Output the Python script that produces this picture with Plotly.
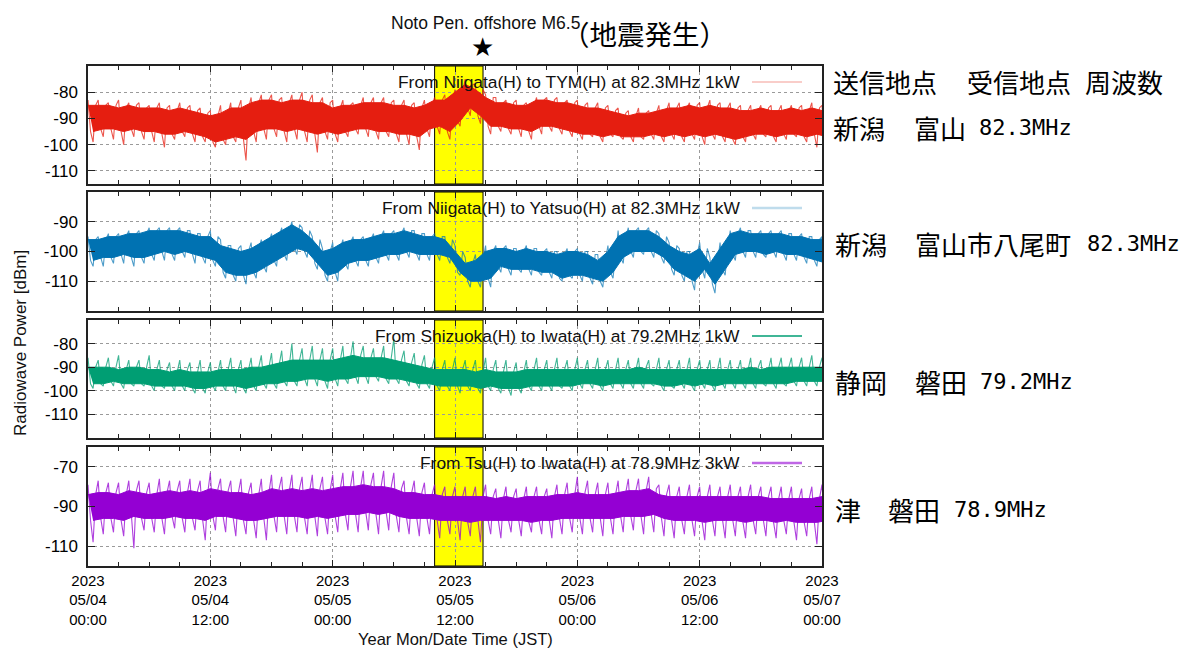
import plotly.graph_objects as go
import pandas as pd

# ---------------- data (hourly envelopes in dBm) ----------------
START = "2023-05-04 00:00"
END = "2023-05-07 00:00"
hours = list(range(73))
highlight_start = "2023-05-05 10:00"
highlight_end = "2023-05-05 14:45"
quake_time = "2023-05-05 14:42"

# Niigata -> TYM (red)
red_hi = [-85,-85,-85,-86,-85,-86,-86,-86,-87,-86, -87,-88,-89,-88,-86,-86,-84,-83,-83,-84,
          -83,-83,-84,-84,-86,-85,-85,-84,-84,-84, -85,-85,-86,-85,-83,-83,-80,-77,-79,-82,
          -84,-84,-85,-85,-83,-83,-84,-84,-85,-86, -86,-87,-88,-89,-88,-88,-87,-86,-86,-85,
          -86,-85,-86,-86,-87,-87,-86,-87,-87,-86, -87,-86,-87]
red_lo = [-95,-94,-94,-95,-94,-95,-95,-96,-96,-95, -96,-97,-99,-98,-97,-98,-95,-94,-94,-95,
          -94,-95,-96,-95,-96,-95,-94,-94,-95,-95, -96,-96,-97,-94,-93,-95,-91,-86,-89,-93,
          -93,-94,-94,-95,-93,-93,-94,-95,-96,-96, -97,-96,-97,-97,-97,-96,-97,-96,-97,-96,
          -97,-96,-97,-98,-97,-96,-96,-97,-96,-96, -97,-96,-97]
red_spk_hi = [-83,-83,-84,-83,-84,-84,-85,-84,-85,-84, -85,-86,-87,-85,-84,-83,-82,-81,-81,-82,
              -81,-80,-81,-82,-83,-83,-84,-82,-82,-82, -83,-83,-84,-83,-82,-81,-79,-75,-77,-81,
              -82,-83,-83,-84,-82,-82,-82,-83,-83,-84, -84,-85,-86,-87,-86,-87,-85,-84,-84,-84,
              -84,-83,-84,-84,-85,-85,-85,-85,-85,-85, -85,-84,-85]
red_spk_lo = [-99,-97,-98,-100,-97,-98,-99,-101,-98,-97, -99,-99,-101,-100,-99,-106,-99,-98,-97,-99,
              -98,-99,-103,-98,-99,-97,-96,-97,-98,-97, -99,-100,-102,-97,-96,-98,-93,-89,-92,-96,
              -95,-96,-97,-98,-96,-95,-96,-97,-98,-97, -99,-97,-98,-99,-98,-98,-99,-98,-99,-98,
              -100,-98,-99,-100,-99,-98,-97,-99,-98,-97, -99,-101,-99]

# Niigata -> Yatsuo (blue)
blue_hi = [-96,-96,-95,-95,-94,-94,-93,-93,-93,-93, -94,-95,-95,-98,-99,-100,-99,-97,-95,-93,
           -91,-93,-96,-100,-99,-97,-96,-96,-95,-94, -94,-93,-94,-95,-95,-96,-100,-104,-103,-100,
           -99,-99,-100,-99,-100,-100,-101,-100,-100,-101, -103,-100,-95,-93,-93,-93,-95,-98,-100,-101,
           -99,-104,-99,-94,-93,-94,-94,-94,-94,-95, -95,-96,-96]
blue_lo = [-103,-102,-102,-101,-102,-102,-101,-100,-101,-100, -101,-102,-103,-107,-108,-108,-107,-105,-103,-101,
           -99,-100,-104,-108,-107,-104,-103,-103,-102,-101, -101,-100,-101,-101,-101,-102,-107,-110,-110,-109,
           -105,-106,-106,-106,-107,-107,-109,-108,-108,-109, -110,-107,-102,-100,-100,-100,-102,-106,-108,-110,
           -106,-111,-106,-101,-100,-100,-101,-100,-101,-101, -102,-103,-104]
blue_spk_hi = [-95,-95,-94,-94,-93,-93,-92,-92,-92,-92, -93,-94,-93,-96,-98,-98,-97,-96,-94,-92,
               -90,-92,-95,-99,-97,-96,-95,-95,-94,-93, -93,-92,-93,-94,-94,-95,-98,-102,-101,-98,
               -98,-98,-99,-98,-99,-99,-100,-99,-99,-100, -101,-98,-93,-92,-92,-92,-94,-97,-99,-100,
               -97,-102,-97,-93,-92,-93,-93,-93,-93,-94, -94,-95,-95]
blue_spk_lo = [-105,-105,-104,-104,-105,-104,-103,-103,-103,-102, -104,-104,-105,-109,-110,-111,-109,-107,-105,-103,
               -101,-102,-106,-110,-110,-106,-105,-105,-104,-103, -103,-102,-103,-103,-103,-104,-108,-112,-112,-112,
               -107,-108,-107,-108,-108,-109,-110,-109,-110,-111, -112,-109,-104,-102,-101,-102,-104,-108,-110,-113,
               -109,-114,-108,-103,-102,-102,-102,-102,-103,-103, -104,-105,-106]

# Shizuoka -> Iwata (green)
green_hi = [-90,-90,-90,-91,-90,-90,-91,-91,-92,-91, -92,-92,-92,-91,-91,-91,-90,-90,-89,-88,
            -87,-87,-87,-87,-87,-86,-85,-86,-86,-86, -87,-88,-89,-90,-91,-91,-91,-91,-92,-91,
            -92,-92,-92,-91,-91,-91,-91,-91,-91,-91, -91,-91,-91,-91,-90,-91,-91,-91,-91,-91,
            -91,-91,-91,-91,-91,-90,-91,-90,-90,-90, -90,-90,-90]
green_lo = [-97,-97,-96,-97,-97,-97,-98,-98,-98,-98, -99,-99,-98,-98,-98,-99,-98,-97,-97,-96,
            -96,-95,-95,-96,-95,-95,-94,-94,-94,-95, -95,-96,-97,-97,-98,-98,-98,-98,-99,-98,
            -99,-99,-99,-98,-98,-98,-98,-98,-97,-97, -98,-97,-97,-97,-97,-97,-98,-98,-97,-98,
            -97,-98,-97,-97,-97,-97,-97,-97,-97,-96, -96,-96,-96]
green_spk_hi = [-86,-87,-86,-85,-87,-87,-85,-87,-88,-87, -88,-87,-88,-87,-86,-87,-86,-85,-84,-83,
                -80,-82,-81,-82,-82,-81,-79,-81,-82,-81, -78,-83,-84,-85,-86,-87,-86,-87,-87,-86,
                -87,-87,-88,-87,-86,-87,-86,-87,-86,-87, -86,-87,-86,-87,-86,-87,-86,-87,-87,-86,
                -87,-87,-86,-87,-87,-86,-87,-86,-86,-86, -86,-85,-86]
green_spk_lo = [-99,-98,-98,-99,-98,-98,-100,-99,-100,-100, -101,-101,-100,-100,-101,-101,-100,-99,-99,-98,
                -98,-98,-98,-99,-98,-97,-97,-97,-96,-97, -97,-98,-99,-99,-100,-100,-101,-100,-101,-100,
                -101,-102,-101,-100,-100,-100,-99,-100,-99,-99, -100,-99,-99,-99,-99,-98,-100,-99,-99,-100,
                -99,-100,-99,-99,-99,-99,-98,-99,-98,-98, -98,-98,-98]

# Tsu -> Iwata (purple)
purple_hi = [-84,-83,-83,-84,-82,-83,-84,-83,-82,-83, -82,-83,-81,-82,-83,-83,-84,-83,-81,-82,
             -81,-82,-81,-82,-81,-80,-80,-79,-80,-80, -81,-83,-83,-84,-84,-85,-85,-85,-85,-85,
             -86,-85,-86,-85,-85,-85,-84,-84,-83,-84, -84,-84,-83,-82,-82,-81,-84,-85,-85,-85,
             -85,-85,-85,-85,-85,-85,-85,-86,-86,-86, -86,-86,-85]
purple_lo = [-97,-96,-96,-97,-95,-96,-96,-96,-95,-96, -96,-97,-95,-95,-96,-97,-97,-96,-95,-95,
             -95,-96,-95,-96,-95,-94,-94,-93,-94,-93, -95,-96,-96,-96,-97,-97,-97,-98,-97,-97,
             -97,-97,-97,-98,-97,-97,-96,-96,-96,-96, -96,-96,-95,-95,-95,-94,-96,-97,-97,-97,
             -98,-97,-97,-97,-98,-97,-97,-98,-97,-98, -98,-98,-97]
purple_spk_hi = [-79,-77,-78,-78,-77,-77,-78,-76,-77,-77, -76,-77,-73,-76,-77,-76,-78,-76,-74,-75,
                 -74,-75,-74,-75,-74,-73,-72,-72,-73,-72, -73,-77,-77,-78,-79,-80,-80,-80,-80,-79,
                 -81,-80,-81,-80,-80,-81,-79,-78,-75,-77, -78,-78,-77,-76,-76,-75,-79,-79,-80,-79,
                 -80,-79,-80,-79,-80,-79,-80,-80,-80,-80, -81,-80,-79]
purple_spk_lo = [-108,-104,-103,-105,-111,-102,-103,-104,-101,-103, -102,-107,-102,-103,-105,-104,-106,-107,-103,-104,
                 -103,-104,-105,-104,-103,-102,-103,-102,-104,-102, -103,-104,-105,-104,-106,-104,-107,-105,-108,-104,
                 -106,-103,-105,-103,-104,-106,-104,-103,-104,-103, -105,-104,-103,-102,-104,-103,-105,-106,-104,-105,
                 -107,-105,-106,-105,-106,-104,-105,-106,-104,-107, -105,-109,-106]

key_texts = ["From Niigata(H) to TYM(H) at 82.3MHz 1kW",
             "From Niigata(H) to Yatsuo(H) at 82.3MHz 1kW",
             "From Shizuoka(H) to Iwata(H) at 79.2MHz 1kW",
             "From Tsu(H) to Iwata(H) at 78.9MHz 3kW"]
y_ranges = [[-115, -70], [-120, -80], [-120, -70], [-120, -60]]
y_ticks = [[-110, -100, -90, -80], [-110, -100, -90], [-110, -100, -90, -80], [-110, -90, -70]]

# ---------------- layout helpers ----------------
W, H = 1181, 649
def px(x):
    return x / W
def py(y):
    return 1 - y / H

PLOT_L, PLOT_R = 88, 822
panel_px = [(66, 184), (192, 311), (320, 438), (447, 566)]

colors = ["#e51e10", "#0072b2", "#009e73", "#9400d3"]
spike_colors = ["rgba(229,30,16,0.75)", "rgba(0,114,178,0.7)", "rgba(0,158,115,0.75)", "rgba(148,0,211,0.75)"]
key_colors = ["rgba(229,30,16,0.45)", "rgba(0,114,178,0.25)", "#009e73", "rgba(148,0,211,0.6)"]
key_widths = [1.2, 2.5, 1.6, 2.5]

series = [(red_hi, red_lo, red_spk_hi, red_spk_lo),
          (blue_hi, blue_lo, blue_spk_hi, blue_spk_lo),
          (green_hi, green_lo, green_spk_hi, green_spk_lo),
          (purple_hi, purple_lo, purple_spk_hi, purple_spk_lo)]

t0 = pd.Timestamp(START)
def at(h):
    return t0 + pd.Timedelta(hours=h)
times = [at(h) for h in hours]
half_times = [at(h + 0.5) for h in hours]

fig = go.Figure()
FONT = "Liberation Sans, Arial, sans-serif"
shapes = []
annotations = []

for i, (hi, lo, shi, slo) in enumerate(series):
    n = i + 1
    sfx = "" if n == 1 else str(n)
    xa, ya = "x" + sfx, "y" + sfx
    # noise trace: upper spike -> core lower edge -> lower spike -> core upper edge, each hour
    zx, zy = [], []
    for h, a, cl, b, ch in zip(hours, shi, lo, slo, hi):
        zx += [at(h), at(h + 0.25), at(h + 0.5), at(h + 0.75)]
        zy += [a, cl, b, ch]
    fig.add_trace(go.Scatter(x=zx, y=zy, mode="lines", xaxis=xa, yaxis=ya,
                             line=dict(color=spike_colors[i], width=1.1), hoverinfo="skip", showlegend=False))
    fig.add_trace(go.Scatter(x=half_times, y=lo, mode="lines", xaxis=xa, yaxis=ya,
                             line=dict(color=colors[i], width=1), hoverinfo="skip", showlegend=False))
    fig.add_trace(go.Scatter(x=times, y=hi, mode="lines", xaxis=xa, yaxis=ya, fill="tonexty",
                             fillcolor=colors[i], line=dict(color=colors[i], width=1),
                             hoverinfo="skip", showlegend=False))

    top, bot = panel_px[i]
    xdom = [px(PLOT_L), px(PLOT_R)]
    ydom = [py(bot), py(top)]
    xaxis = dict(domain=xdom, anchor=ya, type="date", range=[START, END], automargin=False,
                 tick0=START, dtick=12 * 3600 * 1000, ticks="inside", ticklen=6, tickwidth=1,
                 tickcolor="#222", showline=True, linecolor="#222", linewidth=1.5, mirror="allticks",
                 showgrid=True, gridcolor="#9a9a9a", griddash="dot", gridwidth=1, zeroline=False,
                 minor=dict(dtick=3 * 3600 * 1000, ticks="inside", ticklen=4, tickcolor="#222", showgrid=False),
                 showticklabels=(n == 4), tickformat="%Y<br>%m/%d<br>%H:%M",
                 tickfont=dict(family=FONT, size=15, color="black"))
    if n > 1:
        xaxis["matches"] = "x"
    yaxis = dict(domain=ydom, anchor=xa, range=y_ranges[i], tickvals=y_ticks[i], automargin=False,
                 ticktext=[str(v) for v in y_ticks[i]], ticks="inside", ticklen=7, tickcolor="#222",
                 ticklabelstandoff=5,
                 showline=True, linecolor="#222", linewidth=1.5, mirror="allticks",
                 showgrid=True, gridcolor="#9a9a9a", griddash="dot", gridwidth=1, zeroline=False,
                 tickfont=dict(family=FONT, size=17, color="black"))
    fig.update_layout(**{"xaxis" + sfx: xaxis, "yaxis" + sfx: yaxis})

    # yellow highlight
    shapes.append(dict(type="rect", xref=xa, yref=ya + " domain", x0=highlight_start, x1=highlight_end,
                       y0=0, y1=1, fillcolor="#ffff00", line=dict(color="black", width=1), layer="below"))
    # key
    ky = top + 16
    annotations.append(dict(xref="paper", yref="paper", x=px(742), y=py(ky), xanchor="right", yanchor="middle",
                            text=key_texts[i], showarrow=False, font=dict(family=FONT, size=17.4, color="#111")))
    shapes.append(dict(type="line", xref="paper", yref="paper", x0=px(752), x1=px(802), y0=py(ky), y1=py(ky),
                       line=dict(color=key_colors[i], width=key_widths[i])))

# titles and labels
annotations.append(dict(xref="paper", yref="paper", x=px(389), y=py(23), xanchor="left", yanchor="middle",
                        text="Noto Pen. offshore M6.5", showarrow=False, font=dict(family=FONT, size=17.5, color="#111")))
annotations.append(dict(xref="paper", yref="paper", x=px(560), y=py(33), xanchor="left", yanchor="middle",
                        text="（地震発生）", showarrow=False, font=dict(family="Noto Sans CJK JP", size=27.5, color="black")))
annotations.append(dict(xref="x", yref="paper", x=quake_time, y=py(47), xanchor="center", yanchor="middle",
                        text="★", showarrow=False, font=dict(family="DejaVu Sans", size=26, color="black")))
annotations.append(dict(xref="paper", yref="paper", x=px(20), y=py(343), xanchor="center", yanchor="middle",
                        text="Radiowave Power [dBm]", textangle=-90, showarrow=False,
                        font=dict(family=FONT, size=17, color="#111")))
annotations.append(dict(xref="paper", yref="paper", x=px(455), y=py(649), xanchor="center", yanchor="bottom",
                        text="Year Mon/Date Time (JST)", showarrow=False, borderpad=0,
                        font=dict(family=FONT, size=16.5, color="#111")))

# right-hand Japanese labels: (text, left px, center y px, is_ascii)
jp_labels = [("送信地点", 831, 81, False), ("受信地点", 965, 81, False), ("周波数", 1083, 81, False),
             ("新潟", 831, 128, False), ("富山", 912, 128, False), ("82.3MHz", 977, 128, True),
             ("新潟", 833, 244, False), ("富山市八尾町", 913, 244, False), ("82.3MHz", 1085, 244, True),
             ("静岡", 833, 381, False), ("磐田", 913, 381, False), ("79.2MHz", 978, 381, True),
             ("津", 833, 509, False), ("磐田", 886, 509, False), ("78.9MHz", 952, 509, True)]
for txt, lx, cy, asc in jp_labels:
    annotations.append(dict(xref="paper", yref="paper", x=px(lx), y=py(cy), xanchor="left", yanchor="middle",
                            text=txt, showarrow=False,
                            font=dict(family="DejaVu Sans Mono" if asc else "Noto Sans CJK JP",
                                      size=22 if asc else 26, color="black")))

fig.update_layout(width=W, height=H, autosize=False, margin=dict(l=0, r=0, t=0, b=0, autoexpand=False),
                  paper_bgcolor="white", plot_bgcolor="white", showlegend=False,
                  shapes=shapes, annotations=annotations)

fig.write_html("out.html")
